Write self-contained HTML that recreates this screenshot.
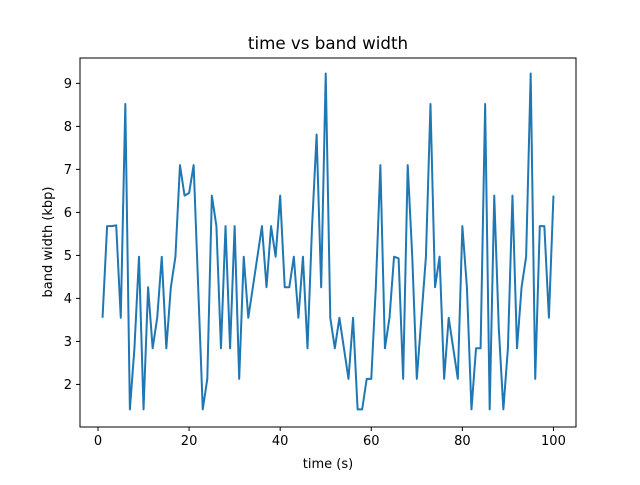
<!DOCTYPE html>
<html><head><meta charset="utf-8"><style>
body{margin:0;background:#fff}
svg text{font-family:"DejaVu Sans","Liberation Sans",sans-serif;fill:#000}
</style></head><body>
<svg id="chart" width="640" height="480" xmlns="http://www.w3.org/2000/svg">
<rect width="640" height="480" fill="#fff"/>
<text x="328" y="49" font-size="16.7" text-anchor="middle">time vs band width</text>
<g id="ticks"></g>
<polyline id="series" fill="none" stroke="#1f77b4" stroke-width="2" stroke-linejoin="round"/>
<rect x="80" y="58" width="496" height="369" fill="none" stroke="#000" stroke-width="1"/>
<text x="328" y="468" font-size="13" text-anchor="middle">time (s)</text>
<text transform="translate(52,242) rotate(-90)" font-size="13" text-anchor="middle">band width (kbp)</text>
</svg>
<script>
const values=[3.55,5.68,5.68,5.7,3.55,8.52,1.42,2.84,4.97,1.42,4.26,2.84,3.55,4.97,2.84,4.26,4.97,7.1,6.39,6.45,7.1,4.26,1.42,2.13,6.39,5.68,2.84,5.68,2.84,5.68,2.13,4.97,3.55,4.26,4.97,5.68,4.26,5.68,4.97,6.39,4.26,4.26,4.97,3.55,4.97,2.84,5.68,7.81,4.26,9.23,3.55,2.84,3.55,2.84,2.13,3.55,1.42,1.42,2.13,2.13,4.26,7.1,2.84,3.55,4.97,4.93,2.13,7.1,4.97,2.13,3.55,4.97,8.52,4.26,4.97,2.13,3.55,2.84,2.13,5.68,4.26,1.42,2.84,2.84,8.52,1.42,6.39,3.3,1.42,2.84,6.39,2.84,4.26,4.97,9.23,2.13,5.68,5.68,3.55,6.39];
const xTicks=[0,20,40,60,80,100];
const yTicks=[2,3,4,5,6,7,8,9];
const L=80,R=576,T=58,B=427;
const xmin=-3.95,xmax=104.95,ymin=1.01,ymax=9.59;
const sx=v=>L+(v-xmin)/(xmax-xmin)*(R-L);
const sy=v=>B-(v-ymin)/(ymax-ymin)*(B-T);
const NS="http://www.w3.org/2000/svg";
const g=document.getElementById('ticks');
function mk(t,a){const e=document.createElementNS(NS,t);for(const k in a)e.setAttribute(k,a[k]);g.appendChild(e);return e;}
xTicks.forEach(v=>{
 const l=mk('line',{x1:sx(v),x2:sx(v),y1:B,y2:B+4,stroke:'#000'});
 
 
 const t=mk('text',{x:sx(v),y:B+18,'font-size':'13','text-anchor':'middle'});t.textContent=v;
 
 
});
yTicks.forEach(v=>{
 const l=mk('line',{x1:L-4,x2:L,y1:sy(v),y2:sy(v),stroke:'#000'});
 
 
 const t=mk('text',{x:L-8,y:sy(v)+4.5,'font-size':'13','text-anchor':'end'});t.textContent=v;
 
 
});
document.getElementById('series').setAttribute('points',values.map((v,i)=>sx(i+1)+','+sy(v)).join(' '));
</script>
</body></html>
